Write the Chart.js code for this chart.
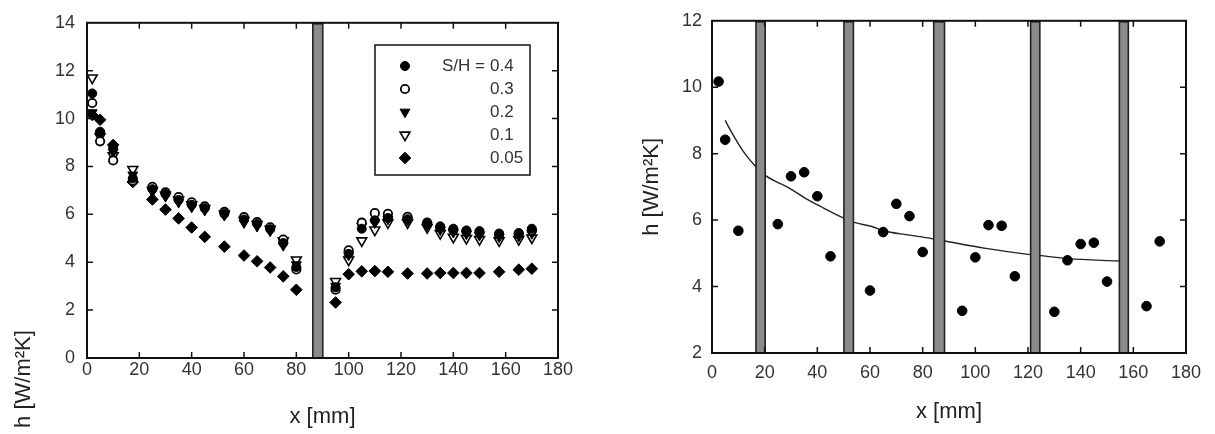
<!DOCTYPE html>
<html>
<head>
<meta charset="utf-8">
<script src="https://cdn.jsdelivr.net/npm/chart.js@4.4.1/dist/chart.umd.min.js"></script>
<style>
  html, body { margin: 0; padding: 0; background: #fff; }
  #wrap { position: relative; width: 1215px; height: 434px; overflow: hidden; }
  #left { position: absolute; left: 0; top: 0; }
  #right { position: absolute; left: 600px; top: 0; }
</style>
</head>
<body>
<div id="wrap">
  <canvas id="left" width="600" height="434"></canvas>
  <canvas id="right" width="615" height="434"></canvas>
</div>
<script>
// ---- Single fin row: local h along x for five fin spacings S/H ----
const stationX = [2, 5, 10, 17.5, 25, 30, 35, 40, 45, 52.5, 60, 65, 70, 75, 80,
                  95, 100, 105, 110, 115, 122.5, 130, 135, 140, 145, 150, 157.5, 165, 170];
const hSH040 = [11.05, 9.45, 8.75, 7.5, 7.05, 6.85, 6.6, 6.4, 6.25, 6.02, 5.78, 5.6, 5.38, 4.8, 3.8,
                2.95, 4.35, 5.4, 5.75, 5.85, 5.8, 5.6, 5.5, 5.4, 5.33, 5.3, 5.2, 5.22, 5.4];
const hSH030 = [10.65, 9.05, 8.25, 7.4, 7.15, 6.92, 6.72, 6.5, 6.33, 6.1, 5.88, 5.68, 5.46, 4.95, 3.7,
                2.85, 4.5, 5.65, 6.05, 6.02, 5.9, 5.65, 5.45, 5.35, 5.28, 5.25, 5.15, 5.18, 5.32];
const hSH020 = [10.25, 9.35, 8.6, 7.65, 6.95, 6.75, 6.5, 6.3, 6.17, 5.96, 5.65, 5.5, 5.3, 4.7, 3.9,
                3.0, 4.3, 5.5, 5.65, 5.8, 5.75, 5.55, 5.35, 5.25, 5.18, 5.12, 5.05, 5.08, 5.2];
const hSH010 = [11.7, 9.25, 8.45, 7.88, 7.0, 6.8, 6.6, 6.4, 6.25, 6.02, 5.75, 5.58, 5.38, 4.9, 4.1,
                3.2, 4.1, 4.9, 5.35, 5.65, 5.65, 5.45, 5.2, 5.05, 5.0, 4.95, 4.9, 4.95, 5.02];
const hSH005 = [10.15, 9.95, 8.9, 7.35, 6.62, 6.2, 5.83, 5.45, 5.06, 4.65, 4.28, 4.04, 3.78, 3.41, 2.85,
                2.32, 3.5, 3.62, 3.63, 3.6, 3.53, 3.53, 3.55, 3.55, 3.55, 3.55, 3.6, 3.69, 3.73];
const spacingLabels = ['0.4', '0.3', '0.2', '0.1', '0.05'];
const singleFin = [[86.3, 90.1]];

// ---- Fin array: measured h between fins and fitted trend ----
const arrayX = [2.5, 5, 10, 25, 30, 35, 40, 45, 60, 65, 70, 75, 80,
                95, 100, 105, 110, 115, 130, 135, 140, 145, 150, 165, 170];
const arrayH = [10.17, 8.42, 5.68, 5.88, 7.32, 7.44, 6.72, 4.91, 3.88, 5.64, 6.49, 6.12, 5.04,
                3.27, 4.88, 5.85, 5.83, 4.31, 3.24, 4.79, 5.28, 5.32, 4.15, 3.41, 5.36];
const trendX = [5, 8.5, 12.5, 16.5, 20.5, 29, 35, 42, 49, 54, 61, 65, 75, 83, 88.5, 104, 120, 125, 135, 154.5];
const trendH = [9.0, 8.5, 8.0, 7.62, 7.33, 6.98, 6.68, 6.38, 6.1, 5.93, 5.80, 5.68, 5.55, 5.45, 5.37, 5.15, 4.97, 4.93, 4.84, 4.77];
const arrayFins = [[16.7, 20.2], [50.1, 53.7], [84.2, 88.3], [121, 124.5], [154.7, 158.1]];

const xTicks = [0, 20, 40, 60, 80, 100, 120, 140, 160, 180];

const FONT = '"Liberation Sans", Arial, sans-serif';
const INK = '#222';
Chart.defaults.font.family = FONT;
Chart.defaults.color = '#333';
Chart.defaults.animation = false;

const pts = (xs, ys) => xs.map((v, i) => ({ x: v, y: ys[i] }));

// Fins, inward tick marks, plot frame and the in-plot key
const framePlugin = {
  id: 'frame',
  afterDatasetsDraw(chart, args, opts) {
    const { ctx, chartArea: a, scales: { x, y } } = chart;
    ctx.save();
    (opts.fins || []).forEach(([x0, x1]) => {
      const p0 = x.getPixelForValue(x0), p1 = x.getPixelForValue(x1);
      ctx.fillStyle = '#8b8b8b';
      ctx.fillRect(p0, a.top + 1, p1 - p0, a.bottom - a.top - 1);
      ctx.strokeStyle = '#222';
      ctx.lineWidth = 1.6;
      ctx.strokeRect(p0, a.top + 1, p1 - p0, a.bottom - a.top - 1);
    });
    ctx.strokeStyle = '#111';
    ctx.lineWidth = 1.5;
    ctx.beginPath();
    x.ticks.forEach(t => {
      if (t.value <= x.min || t.value >= x.max) return;
      const px = x.getPixelForValue(t.value);
      ctx.moveTo(px, a.bottom); ctx.lineTo(px, a.bottom - 6);
      ctx.moveTo(px, a.top); ctx.lineTo(px, a.top + 6);
    });
    y.ticks.forEach(t => {
      if (t.value <= y.min || t.value >= y.max) return;
      const py = y.getPixelForValue(t.value);
      ctx.moveTo(a.left, py); ctx.lineTo(a.left + 6, py);
      ctx.moveTo(a.right, py); ctx.lineTo(a.right - 6, py);
    });
    ctx.stroke();
    ctx.lineWidth = 2;
    ctx.strokeStyle = '#111';
    ctx.strokeRect(a.left, a.top, a.right - a.left, a.bottom - a.top);

    const key = opts.key;
    if (key) {
      const [bx0, by0, bx1, by1] = key.box;
      ctx.fillStyle = '#fff';
      ctx.fillRect(bx0, by0, bx1 - bx0, by1 - by0);
      ctx.lineWidth = 1.5;
      ctx.strokeStyle = '#111';
      ctx.strokeRect(bx0, by0, bx1 - bx0, by1 - by0);
      ctx.font = '17px ' + FONT;
      ctx.textBaseline = 'middle';
      chart.data.datasets.forEach((ds, i) => {
        const yy = key.rowY + i * key.rowStep;
        ctx.fillStyle = ds.backgroundColor;
        ctx.strokeStyle = ds.borderColor;
        ctx.lineWidth = ds.borderWidth;
        Chart.helpers.drawPoint(ctx, {
          pointStyle: ds.pointStyle, rotation: ds.rotation || 0,
          radius: ds.pointRadius, borderWidth: ds.borderWidth
        }, key.markerX, yy);
        ctx.fillStyle = '#333';
        ctx.textAlign = 'left';
        ctx.fillText(spacingLabels[i], key.textX, yy);
        if (i === 0) {
          ctx.textAlign = 'right';
          ctx.fillText('S/H =', key.textX - 5, yy);
        }
      });
    }
    ctx.restore();
  }
};

// Rotated y title of the left panel, set low beside the axis
const leftTitlePlugin = {
  id: 'leftTitle',
  afterDraw(chart, args, opts) {
    const { ctx } = chart;
    ctx.save();
    ctx.translate(opts.x, opts.y);
    ctx.rotate(-Math.PI / 2);
    ctx.font = '22px ' + FONT;
    ctx.fillStyle = INK;
    ctx.textAlign = 'center';
    ctx.textBaseline = 'middle';
    ctx.fillText(opts.text, 0, 0);
    ctx.restore();
  }
};

function xScale(height, labelPad, titlePad) {
  return {
    type: 'linear', min: 0, max: 180,
    afterBuildTicks: s => { s.ticks = xTicks.map(v => ({ value: v })); },
    ticks: { padding: labelPad, maxRotation: 0, autoSkip: false, font: { size: 18 }, color: '#333' },
    grid: { display: false, drawTicks: false },
    border: { display: false },
    title: { display: true, text: 'x [mm]', color: INK, font: { size: 22 }, padding: { top: 0, bottom: titlePad } },
    afterFit: s => { s.height = height; }
  };
}

function yScale(min, max, width, labelPad, title) {
  return {
    type: 'linear', min, max,
    ticks: { stepSize: 2, padding: labelPad, font: { size: 18 }, color: '#333' },
    grid: { display: false, drawTicks: false },
    border: { display: false },
    title: title,
    afterFit: s => { s.width = width; }
  };
}

const marker = (style, filled, r, rot, bw) => ({
  pointStyle: style, rotation: rot, pointRotation: rot, pointRadius: r, pointHoverRadius: r,
  backgroundColor: filled ? '#000' : '#fff', borderColor: '#000', borderWidth: bw,
  pointBackgroundColor: filled ? '#000' : '#fff', pointBorderColor: '#000', pointBorderWidth: bw
});

new Chart(document.getElementById('left'), {
  type: 'scatter',
  data: {
    datasets: [
      { label: 'S/H = 0.4', data: pts(stationX, hSH040), ...marker('circle', true, 4.5, 0, 1) },
      { label: 'S/H = 0.3', data: pts(stationX, hSH030), ...marker('circle', false, 4.2, 0, 1.8) },
      { label: 'S/H = 0.2', data: pts(stationX, hSH020), ...marker('triangle', true, 5.7, 180, 1) },
      { label: 'S/H = 0.1', data: pts(stationX, hSH010), ...marker('triangle', false, 5.7, 180, 1.6) },
      { label: 'S/H = 0.05', data: pts(stationX, hSH005), ...marker('rectRot', true, 5.8, 0, 1) }
    ]
  },
  options: {
    responsive: false,
    layout: { padding: { top: 18, right: 42, left: 0, bottom: 0 } },
    scales: {
      x: xScale(76, 1, 4),
      y: yScale(0, 14, 87, 12, { display: false })
    },
    plugins: {
      legend: { display: false },
      tooltip: { enabled: false },
      frame: {
        fins: singleFin,
        key: { box: [375, 45, 530, 175], markerX: 405, textX: 490, rowY: 66, rowStep: 23 }
      },
      leftTitle: { text: 'h [W/m²K]', x: 24, y: 379 }
    }
  },
  plugins: [framePlugin, leftTitlePlugin]
});

new Chart(document.getElementById('right'), {
  type: 'scatter',
  data: {
    datasets: [
      { label: 'measured', data: pts(arrayX, arrayH), ...marker('circle', true, 4.8, 0, 1) },
      {
        label: 'trend', type: 'line', data: pts(trendX, trendH), showLine: true,
        borderColor: '#222', borderWidth: 1.4, pointRadius: 0, fill: false,
        cubicInterpolationMode: 'monotone'
      }
    ]
  },
  options: {
    responsive: false,
    layout: { padding: { top: 16, right: 29, left: 0, bottom: 0 } },
    scales: {
      x: xScale(81, 9, 9),
      y: yScale(2, 12, 112, 10, {
        display: true, text: 'h [W/m²K]', color: INK, font: { size: 22 },
        padding: { top: 39, bottom: 0 }
      })
    },
    plugins: {
      legend: { display: false },
      tooltip: { enabled: false },
      frame: { fins: arrayFins }
    }
  },
  plugins: [framePlugin]
});
</script>
</body>
</html>
